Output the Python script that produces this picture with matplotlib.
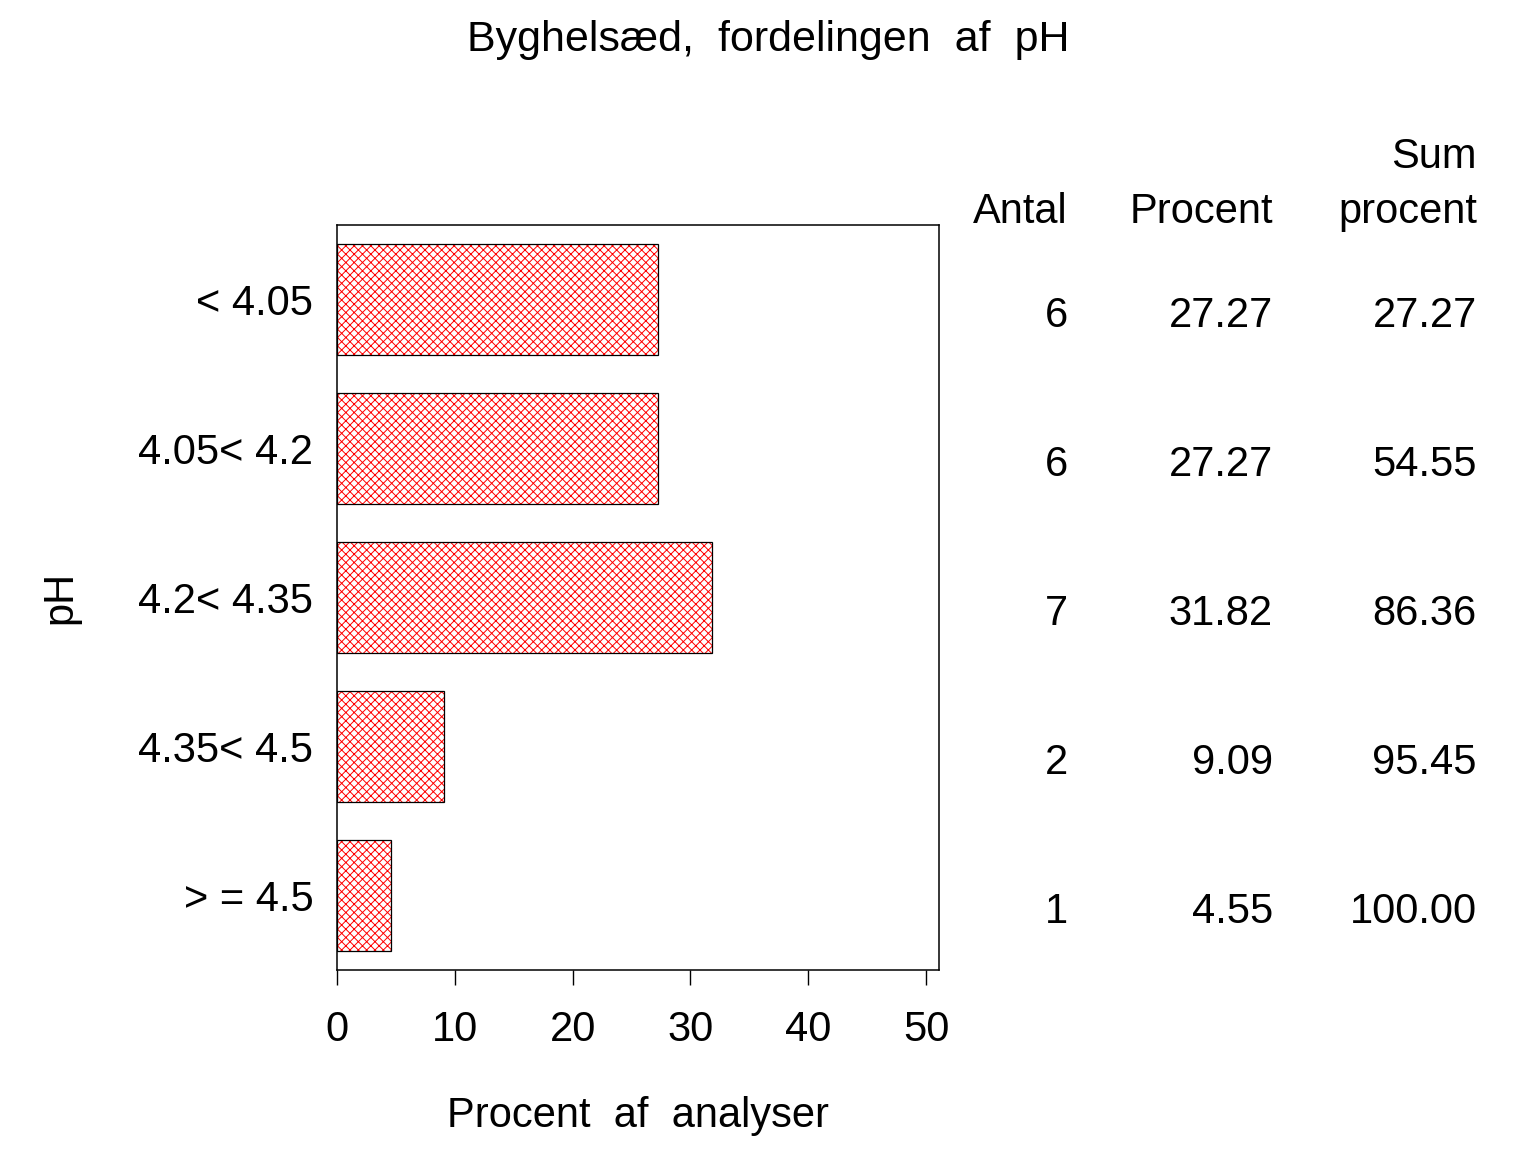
import matplotlib
matplotlib.use("Agg")
import matplotlib.pyplot as plt
from matplotlib.transforms import blended_transform_factory
import numpy as np

categories = ["< 4.05", "4.05< 4.2", "4.2< 4.35", "4.35< 4.5", "> = 4.5"]
antal = [6, 6, 7, 2, 1]
procent = [27.27, 27.27, 31.82, 9.09, 4.55]
sum_procent = [27.27, 54.55, 86.36, 95.45, 100.00]
x_ticks = [0, 10, 20, 30, 40, 50]

plt.rcParams['font.family'] = ['Liberation Sans', 'DejaVu Sans']
plt.rcParams['hatch.linewidth'] = 0.7

fig = plt.figure(figsize=(15.36, 11.52), dpi=100)
ax = fig.add_axes([337/1536, 1-970/1152, (939-337)/1536, (970-225)/1152])

y = np.arange(len(categories))
ax.barh(y, procent, height=0.75, color='white', edgecolor='red', hatch='xxxx', linewidth=0)
ax.barh(y, procent, height=0.75, color='none', edgecolor='black', linewidth=0.9)

ax.set_ylim(len(categories) - 0.5, -0.5)
ax.set_xlim(0, 51.1)
ax.set_yticks(y)
ax.set_yticklabels(categories, fontsize=30)
ax.tick_params(axis='y', length=0, pad=17)
ax.set_xticks(x_ticks)
ax.set_xticklabels([str(t) for t in x_ticks], fontsize=30)
ax.tick_params(axis='x', direction='out', length=11, width=1, pad=18)
for s in ax.spines.values():
    s.set_linewidth(1.1)

ax.set_xlabel("Procent  af  analyser", fontsize=30, labelpad=33)
ax.set_ylabel("pH", fontsize=30, labelpad=42)

fig.text(0.5, 1-40/1152, "Byghelsæd,  fordelingen  af  pH", fontsize=31,
         ha='center', va='center')

tr = blended_transform_factory(fig.transFigure, ax.transData)
col_x = [1068/1536, 1273/1536, 1477/1536]
# headers
fig.text(col_x[0], 1-212/1152, "Antal", fontsize=30, ha='right', va='center')
fig.text(col_x[1], 1-212/1152, "Procent", fontsize=30, ha='right', va='center')
fig.text(col_x[2], 1-157/1152, "Sum", fontsize=30, ha='right', va='center')
fig.text(col_x[2], 1-212/1152, "procent", fontsize=30, ha='right', va='center')

for i in range(len(categories)):
    yy = y[i] + 0.11
    ax.text(col_x[0], yy, f"{antal[i]}", transform=tr, fontsize=30, ha='right', va='center')
    ax.text(col_x[1], yy, f"{procent[i]:.2f}", transform=tr, fontsize=30, ha='right', va='center')
    ax.text(col_x[2], yy, f"{sum_procent[i]:.2f}", transform=tr, fontsize=30, ha='right', va='center')

fig.savefig("out.png", dpi=100)
